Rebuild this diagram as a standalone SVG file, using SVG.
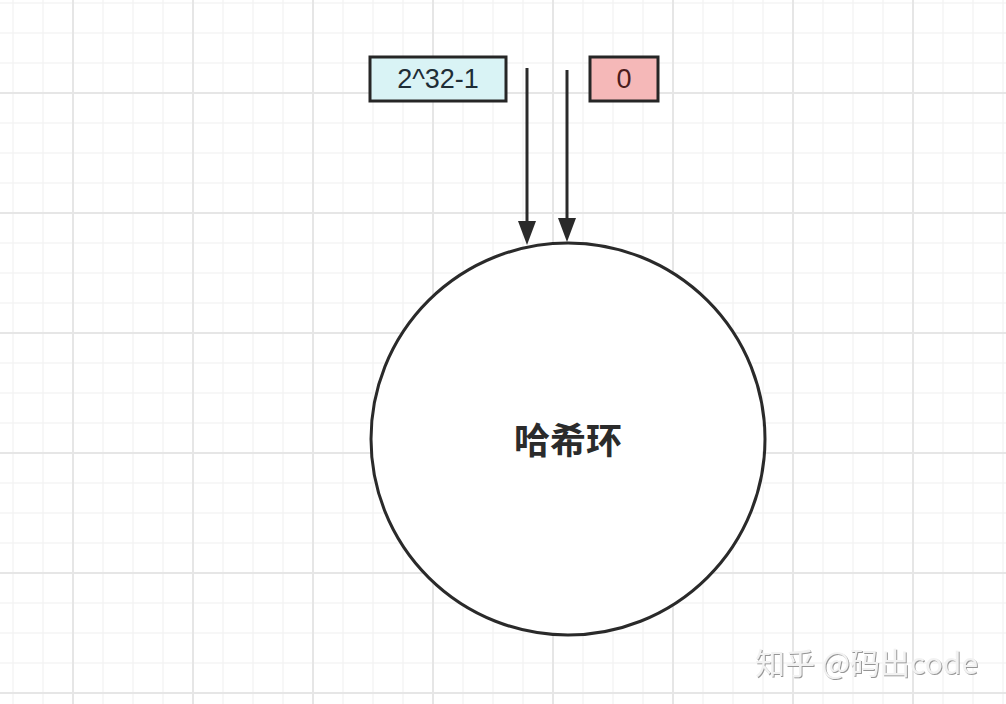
<svg xmlns="http://www.w3.org/2000/svg" width="1006" height="704" viewBox="0 0 1006 704">
  <style>
    .box { stroke: #262626; stroke-width: 3; }
    .lbl { font-family: "Liberation Sans", "Noto Sans", sans-serif; font-size: 27px; text-anchor: middle; dominant-baseline: central; }
    .edge { fill: none; stroke: #2a2a2a; stroke-width: 3; }
    .ring { fill: #ffffff; stroke: #2a2a2a; stroke-width: 3; }
    .title { font-family: "Noto Sans CJK SC", "Noto Sans", sans-serif; font-size: 36px; font-weight: bold; fill: #2b2b2b; text-anchor: middle; dominant-baseline: central; }
    .wm { font-family: "Noto Sans CJK SC", "Noto Sans", sans-serif; font-size: 30px; fill: #f2f2f2; }
  </style>
  <defs>
    <pattern id="gridSmall" patternUnits="userSpaceOnUse" x="-2" y="-12" width="30" height="30">
      <rect x="14.5" y="0" width="1" height="30" fill="#efefef"/>
      <rect x="0" y="14.5" width="30" height="1" fill="#efefef"/>
    </pattern>
    <pattern id="gridBig" patternUnits="userSpaceOnUse" x="13" y="33" width="120" height="120">
      <rect x="59" y="0" width="2" height="120" fill="#e6e6e6"/>
      <rect x="0" y="59" width="120" height="2" fill="#e6e6e6"/>
    </pattern>
    <marker id="arrow" markerUnits="userSpaceOnUse" viewBox="0 0 24 18" markerWidth="24" markerHeight="18" refX="1" refY="9" orient="auto">
      <path d="M0,0 L24,9 L0,18 Z" fill="#2a2a2a"/>
    </marker>
    <filter id="emboss" x="-5%" y="-20%" width="110%" height="140%">
      <feDropShadow dx="1" dy="1" stdDeviation="0.6" flood-color="#8a8a8a" flood-opacity="0.9"/>
    </filter>
  </defs>

  <g id="background">
    <rect x="0" y="0" width="1006" height="704" fill="#ffffff"/>
    <rect x="0" y="0" width="1006" height="704" fill="url(#gridSmall)"/>
    <rect x="0" y="0" width="1006" height="704" fill="url(#gridBig)"/>
  </g>

  <g id="connectors">
    <path class="edge" d="M527,68 V222" marker-end="url(#arrow)"/>
    <path class="edge" d="M567,70 V219" marker-end="url(#arrow)"/>
  </g>

  <g id="node-max">
    <rect class="box" x="370" y="57" width="136" height="44" fill="#d9f3f5"/>
    <text class="lbl" x="438" y="79" fill="#1e2d36">2^32-1</text>
  </g>

  <g id="node-zero">
    <rect class="box" x="590" y="57" width="68" height="44" fill="#f5b8b8"/>
    <text class="lbl" x="624" y="79" fill="#4a1c1c">0</text>
  </g>

  <g id="node-ring">
    <ellipse class="ring" cx="568" cy="439" rx="197" ry="196"/>
    <text class="title" x="568" y="438">哈希环</text>
  </g>

  <g id="watermark">
    <text class="wm" x="755" y="674" filter="url(#emboss)">知乎 @码出code</text>
  </g>
</svg>
